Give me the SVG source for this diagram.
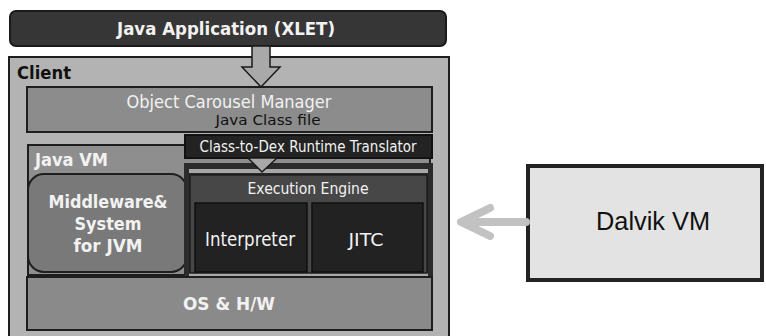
<svg xmlns="http://www.w3.org/2000/svg" width="766" height="336" viewBox="0 0 766 336">
<style>
text{font-family:"DejaVu Sans","Verdana",sans-serif;text-anchor:middle}
.b{font-weight:bold}
.w{fill:#f2f2f2}
.k{fill:#111}
.box{stroke:#1e1e1e;stroke-width:2}
</style>
<rect width="766" height="336" fill="#ffffff"/>
<g id="client">
<rect x="9" y="57" width="440" height="290" fill="#b3b3b3" stroke="#1e1e1e" stroke-width="2"/>
<text x="17" y="79" class="b k" font-size="18" style="text-anchor:start" textLength="54" lengthAdjust="spacingAndGlyphs">Client</text>
</g>
<g id="java-app">
<rect x="10" y="11" width="436" height="35" rx="6" fill="#363636" stroke="#1a1a1a" stroke-width="2"/>
<text x="226" y="35" class="b w" font-size="18" textLength="218" lengthAdjust="spacingAndGlyphs">Java Application (XLET)</text>
</g>
<g id="ocm">
<rect x="27" y="87" width="405" height="45" fill="#8c8c8c" class="box"/>
<text x="229" y="108" class="w" font-size="17" textLength="205" lengthAdjust="spacingAndGlyphs">Object Carousel Manager</text>
<text x="268" y="125" class="k" font-size="14" textLength="105" lengthAdjust="spacingAndGlyphs">Java Class file</text>
</g>
<g id="java-vm">
<rect x="28" y="145" width="402" height="130" fill="#8e8e8e" class="box"/>
<text x="35" y="166" class="b w" font-size="17" style="text-anchor:start" textLength="73" lengthAdjust="spacingAndGlyphs">Java VM</text>
</g>
<g id="middleware">
<rect x="28" y="174" width="159" height="98" rx="16" fill="#797979" class="box"/>
<text x="108" y="208" class="b w" font-size="18" textLength="119" lengthAdjust="spacingAndGlyphs">Middleware&amp;</text>
<text x="108" y="230" class="b w" font-size="18" textLength="67" lengthAdjust="spacingAndGlyphs">System</text>
<text x="108" y="252" class="b w" font-size="18" textLength="69" lengthAdjust="spacingAndGlyphs">for JVM</text>
</g>
<g id="class-to-dex">
<rect x="185" y="135" width="247" height="23" fill="#232323" stroke="#111" stroke-width="2"/>
<text x="308" y="152" class="w" font-size="15" textLength="217" lengthAdjust="spacingAndGlyphs">Class-to-Dex Runtime Translator</text>
</g>
<g id="execution-engine">
<rect x="184" y="163" width="249" height="119" fill="#2b2b2b"/>
<rect x="189" y="169" width="239" height="4" fill="#a8a8a8"/>
<rect x="189" y="273" width="239" height="3" fill="#a8a8a8"/>
<rect x="190" y="175" width="237" height="98" fill="#474747" stroke="#1e1e1e" stroke-width="1.5"/>
<text x="308" y="194" class="w" font-size="15" textLength="121" lengthAdjust="spacingAndGlyphs">Execution Engine</text>
</g>
<g id="interpreter">
<rect x="195" y="203" width="112" height="69" fill="#222222" stroke="#111" stroke-width="1.5"/>
<text x="250" y="246" class="w" font-size="19" textLength="90" lengthAdjust="spacingAndGlyphs">Interpreter</text>
</g>
<g id="jitc">
<rect x="312" y="203" width="111" height="69" fill="#222222" stroke="#111" stroke-width="1.5"/>
<text x="366" y="246" class="w" font-size="18" textLength="35" lengthAdjust="spacingAndGlyphs">JITC</text>
</g>
<g id="os-hw">
<rect x="27" y="277" width="405" height="53" fill="#8a8a8a" class="box"/>
<text x="229" y="310" class="b w" font-size="18" textLength="92" lengthAdjust="spacingAndGlyphs">OS &amp; H/W</text>
</g>
<g id="dalvik-vm">
<rect x="528" y="166" width="234" height="114" fill="#e3e3e3" stroke="#222" stroke-width="4"/>
<text x="653" y="230" fill="#111" font-size="26" style="font-family:'Liberation Sans',Arial,sans-serif" textLength="114" lengthAdjust="spacingAndGlyphs">Dalvik VM</text>
</g>
<g id="connectors">
<path d="M252,46 L270,46 L270,67 L280,67 L261,87 L242,67 L252,67 Z" fill="#a9a9a9" stroke="#1a1a1a" stroke-width="1.5"/>
<path d="M248,158 L277,158 L262,172 Z" fill="#a8a8a8" stroke="#1a1a1a" stroke-width="1.5"/>
<g stroke="#c2c2c2" stroke-width="8" stroke-linecap="round" stroke-linejoin="round" fill="none">
<line x1="526" y1="222" x2="462" y2="222"/>
<polyline points="490,208 461,222 490,236"/>
</g>
</g>
</svg>
